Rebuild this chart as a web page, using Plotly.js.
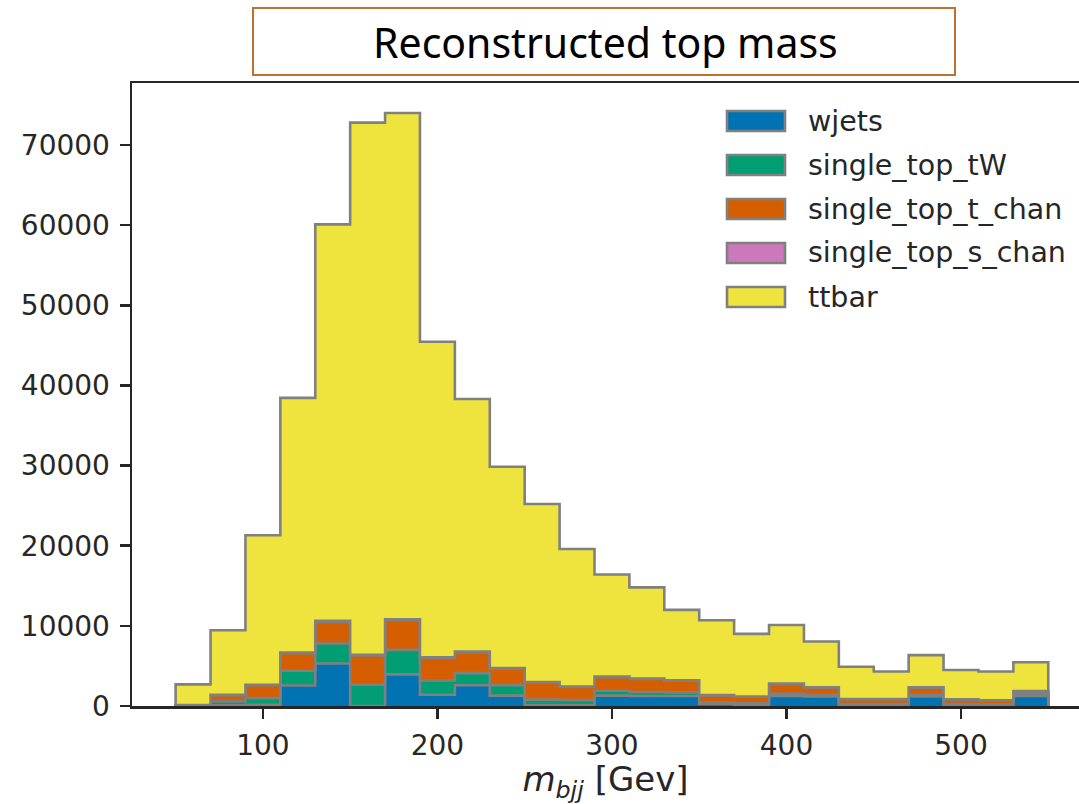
<!DOCTYPE html>
<html><head><meta charset="utf-8">
<script src="https://cdn.plot.ly/plotly-3.0.1.min.js"></script>
<style>html,body{margin:0;padding:0;background:#fff;} #chart{width:1079px;height:804px;}</style>
</head><body><div id="chart"></div>
<script>
// ---- data (events per 20 GeV bin) ----
const binEdges = [50,70,90,110,130,150,170,190,210,230,250,270,290,310,330,350,370,390,410,430,450,470,490,510,530,550];
const wjets          = [0,100,150,2550,5300,0,3950,1400,2580,1300,100,100,1300,1250,1250,250,150,1250,1200,100,100,1200,100,50,1250];
const singleTopTW    = [50,480,830,1850,2500,2660,3050,1780,1520,1300,700,650,600,500,450,200,200,300,200,150,150,180,150,150,200];
const singleTopTChan = [50,770,1620,2200,2700,3640,3700,2820,2600,2050,2150,1630,1700,1630,1450,880,800,1200,900,600,600,900,580,480,300];
const singleTopSChan = [10,40,60,80,120,90,120,80,90,70,50,50,60,50,50,40,30,40,40,30,30,40,20,20,100];
const ttbar          = [2590,8060,18640,31770,49480,66410,63180,39370,31510,25130,22200,17170,12740,11370,8800,9330,7820,7310,5710,4020,3420,4030,3650,3600,3600];
const seriesNames  = ['wjets','single_top_tW','single_top_t_chan','single_top_s_chan','ttbar'];
const seriesColors = ['#0173b2','#029e73','#d55e00','#cc78bc','#efe33e'];
const xTickVals = [100,200,300,400,500];
const yTickVals = [0,10000,20000,30000,40000,50000,60000,70000];
const chartTitle = 'Reconstructed top mass';
const xTitle = '<i>m</i><sub><i>bjj</i></sub> [Gev]';

// ---- layout geometry ----
const W = 1079, H = 804, L = 132, R = 1079, T = 83, B = 706;
const px2x = p => (p - L) / (R - L);
const py2y = p => (B - p) / (B - T);
const textColor = '#262626';
const edgeColor = '#808080';

const series = [wjets, singleTopTW, singleTopTChan, singleTopSChan, ttbar];
const traces = [];
let running = wjets.map(() => 0);
series.forEach((vals, k) => {
  running = running.map((r, i) => r + vals[i]);
  const xs = [binEdges[0]].concat(binEdges);
  const ys = [0].concat(running).concat([0]);
  traces.push({
    type: 'scatter', mode: 'lines', name: seriesNames[k],
    x: xs, y: ys,
    line: {shape: 'hv', color: edgeColor, width: 2.6},
    fill: k === 0 ? 'tozeroy' : 'tonexty',
    fillcolor: seriesColors[k],
    showlegend: false, hoverinfo: 'skip'
  });
});

// manual legend (matplotlib-style wide patches)
const shapes = [];
const annotations = [];
const rowY = [121, 165, 209, 253, 297];
seriesNames.forEach((n, k) => {
  shapes.push({type: 'rect', xref: 'paper', yref: 'paper',
    x0: px2x(727), x1: px2x(785), y0: py2y(rowY[k] + 10), y1: py2y(rowY[k] - 10),
    fillcolor: seriesColors[k], line: {color: edgeColor, width: 2.6}});
  annotations.push({xref: 'paper', yref: 'paper', x: px2x(806), y: py2y(rowY[k]),
    xanchor: 'left', yanchor: 'middle', showarrow: false, text: n,
    font: {family: 'DejaVu Sans', size: 28.5, color: textColor}});
});
// boxed title
shapes.push({type: 'rect', xref: 'paper', yref: 'paper',
  x0: px2x(253), x1: px2x(955), y0: py2y(75), y1: py2y(8),
  fillcolor: 'rgba(0,0,0,0)', line: {color: '#bd7130', width: 2}});
annotations.push({xref: 'paper', yref: 'paper', x: px2x(605), y: py2y(42),
  xanchor: 'center', yanchor: 'middle', showarrow: false, text: chartTitle,
  font: {family: 'Noto Sans', size: 41, color: '#000000'}});

const layout = {
  width: W, height: H,
  margin: {l: L, r: W - R, t: T, b: H - B, pad: 0},
  paper_bgcolor: '#ffffff', plot_bgcolor: '#ffffff',
  font: {family: 'DejaVu Sans', size: 28, color: textColor},
  showlegend: false,
  xaxis: {
    range: [25, 567.6], tickvals: xTickVals, ticks: 'outside', ticklen: 10, tickwidth: 2.5,
    tickcolor: textColor, showline: true, linecolor: textColor, linewidth: 2.5, mirror: true,
    showgrid: false, zeroline: false, ticklabelstandoff: 3,
    tickfont: {family: 'DejaVu Sans', size: 28, color: textColor},
    title: {text: xTitle, standoff: 6, font: {family: 'DejaVu Sans', size: 34, color: textColor}}
  },
  yaxis: {
    range: [0, 77740], tickvals: yTickVals, tickformat: 'd', ticks: 'outside', ticklen: 10, tickwidth: 2.5,
    tickcolor: textColor, showline: true, linecolor: textColor, linewidth: 2.5, mirror: false,
    showgrid: false, zeroline: false, ticklabelstandoff: 4,
    tickfont: {family: 'DejaVu Sans', size: 28, color: textColor}
  },
  shapes: shapes,
  annotations: annotations
};

Plotly.newPlot('chart', traces, layout, {staticPlot: true, displayModeBar: false});
</script>
</body></html>
